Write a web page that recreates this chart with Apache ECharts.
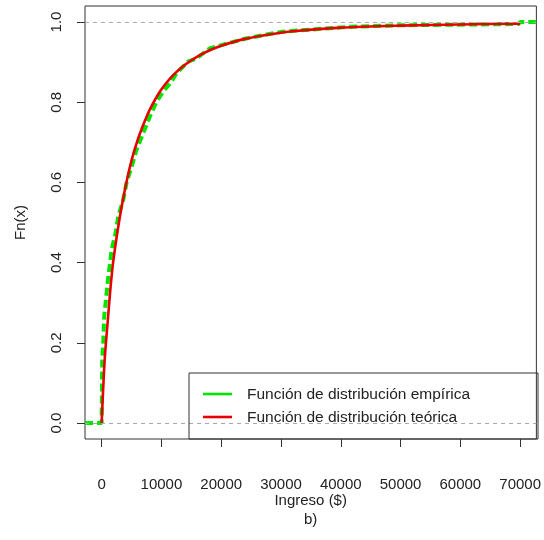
<!DOCTYPE html>
<html>
<head>
<meta charset="utf-8">
<script src="https://cdn.jsdelivr.net/npm/echarts@6/dist/echarts.min.js"></script>
<style>
  html, body { margin: 0; padding: 0; background: #fff; }
  #chart { width: 544px; height: 540px; }
</style>
</head>
<body>
<div id="chart"></div>
<script>
// Empirical distribution of income: knot positions ($) and cumulative proportion
const empX = [0, 100, 270, 430, 720, 1000, 1330, 1670, 2330, 2770, 3600, 4170, 5000, 5830,
              6930, 8050, 9170, 10270, 11670, 12500, 14430, 15830, 18050, 21380, 24170,
              28050, 30270, 35830, 41380, 49720, 69700, 70000];
const empF = [0, 0.158, 0.200, 0.266, 0.307, 0.350, 0.390, 0.432, 0.473, 0.515, 0.556,
              0.599, 0.639, 0.681, 0.722, 0.764, 0.801, 0.826, 0.851, 0.872, 0.901,
              0.909, 0.934, 0.948, 0.959, 0.970, 0.976, 0.982, 0.988, 0.992, 0.995, 1.0];

// Fitted (theoretical) distribution function
const theoX = [0, 500, 1000, 1500, 2000, 3000, 4000, 5000, 6000, 7000, 8000, 9000, 10000,
               12000, 14000, 16000, 18000, 20000, 24000, 28000, 32000, 40000, 50000, 60000, 70000];
const theoF = [0, 0.155, 0.250, 0.340, 0.410, 0.510, 0.590, 0.655, 0.705, 0.745, 0.780,
               0.808, 0.832, 0.868, 0.894, 0.914, 0.929, 0.941, 0.958, 0.969, 0.977,
               0.986, 0.991, 0.994, 0.996];

const xTicks = [0, 10000, 20000, 30000, 40000, 50000, 60000, 70000];
const yTicks = [0, 0.2, 0.4, 0.6, 0.8, 1.0];

const legendNames = ['Función de distribución empírica', 'Función de distribución teórica'];

const xRange = [-2783, 72717];
const yRange = [-0.04, 1.04];

const GREEN = '#00e600';
const RED = '#e80000';
const INK = '#222';
const FONT = 'Liberation Sans, Arial, sans-serif';

// ECDF: flat at 0 before the first knot, flat at 1 after the last one
const empData = [[xRange[0], 0]].concat(empX.map((x, i) => [x, empF[i]]));
empData.push([xRange[1], empF[empF.length - 1]]);
const theoData = theoX.map((x, i) => [x, theoF[i]]);

const chart = echarts.init(document.getElementById('chart'), null, { renderer: 'canvas' });

const grid = { left: 85, right: 6, top: 6, bottom: 101 };

chart.setOption({
  animation: false,
  backgroundColor: '#fff',
  grid: Object.assign({ show: true, borderColor: '#333', borderWidth: 1, backgroundColor: 'transparent' }, grid),
  xAxis: {
    type: 'value',
    min: xRange[0], max: xRange[1],
    name: 'Ingreso ($)\nb)',
    nameLocation: 'middle',
    nameGap: 52,
    nameMoveOverlap: false,
    nameTextStyle: { color: INK, fontSize: 15, fontFamily: FONT, lineHeight: 19 },
    axisLine: { show: false, onZero: false },
    splitLine: { show: false },
    axisTick: { show: true, length: 8, inside: false, lineStyle: { color: '#333' }, customValues: xTicks },
    axisLabel: { color: INK, fontSize: 15, fontFamily: FONT, margin: 38, customValues: xTicks,
                 formatter: v => String(v) }
  },
  yAxis: {
    type: 'value',
    min: yRange[0], max: yRange[1],
    name: 'Fn(x)',
    nameLocation: 'middle',
    nameRotate: 90,
    nameGap: 57,
    nameMoveOverlap: false,
    nameTextStyle: { color: INK, fontSize: 15, fontFamily: FONT },
    axisLine: { show: false, onZero: false },
    splitLine: { show: false },
    axisTick: { show: true, length: 8, inside: false, lineStyle: { color: '#333' }, customValues: yTicks },
    axisLabel: { color: INK, fontSize: 15, fontFamily: FONT, rotate: 90, margin: 21, customValues: yTicks,
                 formatter: v => v.toFixed(1) }
  },
  series: [
    {
      name: legendNames[0],
      type: 'line',
      data: empData,
      showSymbol: false,
      lineStyle: { color: GREEN, width: 4, type: [8, 4] },
      z: 2,
      markLine: {
        silent: true,
        symbol: 'none',
        label: { show: false },
        lineStyle: { color: '#aaa', width: 1, type: [4, 4] },
        data: [{ yAxis: 0 }, { yAxis: 1 }]
      }
    },
    {
      name: legendNames[1],
      type: 'line',
      data: theoData,
      showSymbol: false,
      smooth: 0.3,
      lineStyle: { color: RED, width: 2.6 },
      z: 3
    }
  ],
  graphic: [
    { type: 'rect', shape: { x: 189, y: 373, width: 349, height: 66 },
      style: { fill: 'none', stroke: '#333', lineWidth: 1 }, z: 10 },
    { type: 'line', shape: { x1: 203, y1: 394, x2: 232, y2: 394 },
      style: { stroke: GREEN, lineWidth: 2.6 }, z: 10 },
    { type: 'line', shape: { x1: 203, y1: 417, x2: 232, y2: 417 },
      style: { stroke: RED, lineWidth: 2.6 }, z: 10 },
    { type: 'text', x: 247, y: 395,
      style: { text: legendNames[0], fill: INK, font: '15.5px ' + FONT, verticalAlign: 'middle' }, z: 10 },
    { type: 'text', x: 247, y: 418,
      style: { text: legendNames[1], fill: INK, font: '15.5px ' + FONT, verticalAlign: 'middle' }, z: 10 }
  ]
});
</script>
</body>
</html>
